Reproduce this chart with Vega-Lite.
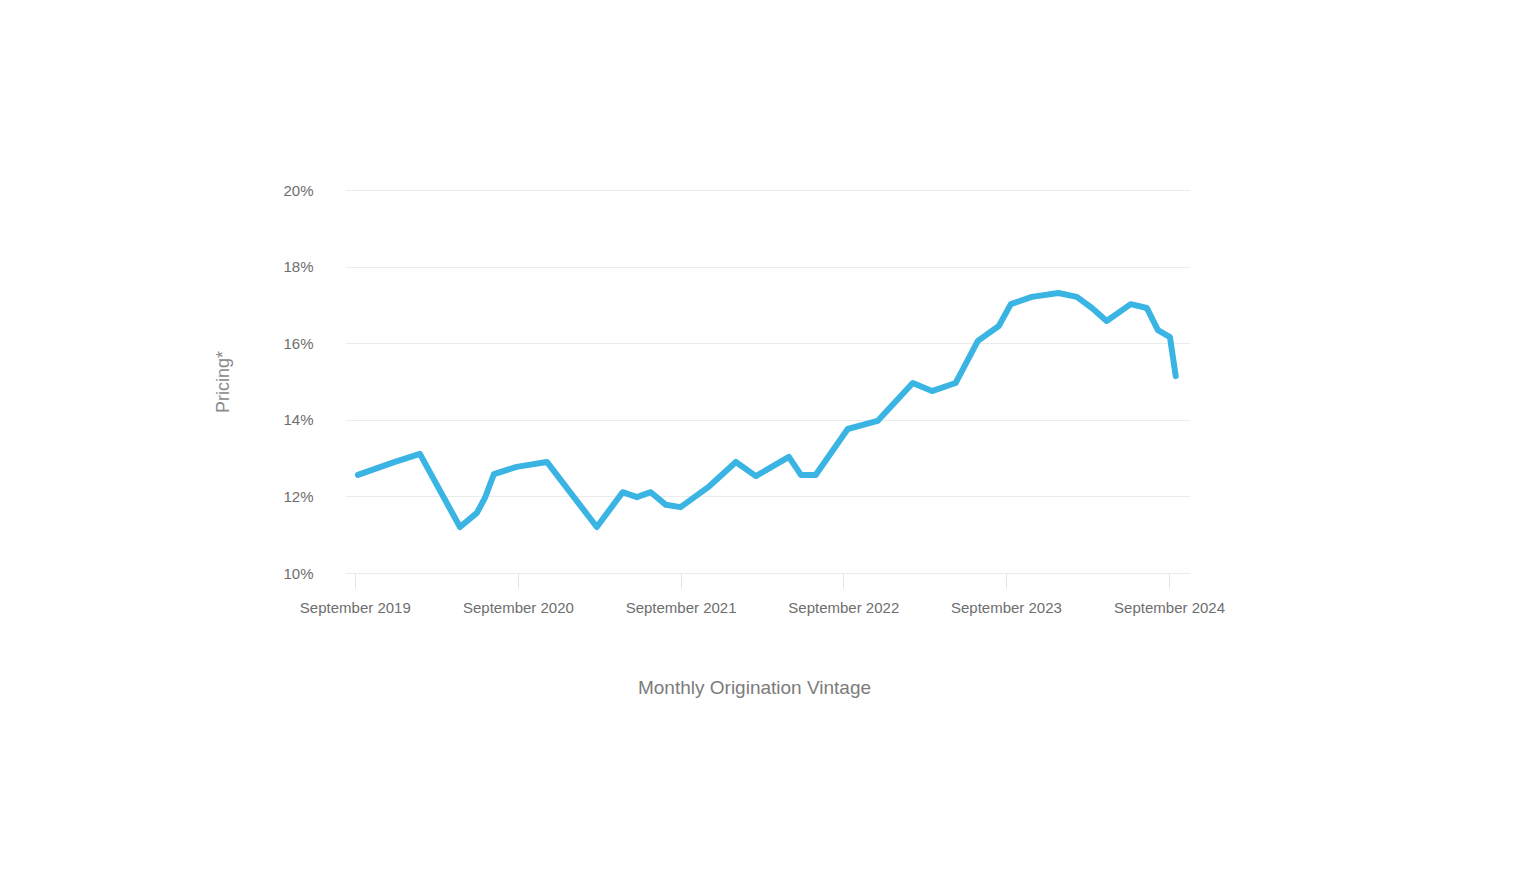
{
  "$schema": "https://vega.github.io/schema/vega-lite/v6.json",
  "autosize": "none",
  "width": 845,
  "height": 383,
  "padding": {"left": 345, "top": 190, "right": 345, "bottom": 305},
  "background": "#ffffff",
  "config": {
    "view": {"stroke": null},
    "font": "Liberation Sans"
  },
  "data": {
    "values": [
      {"date": "2019-09-08", "pricing": 12.56},
      {"date": "2019-11-30", "pricing": 12.90},
      {"date": "2020-01-25", "pricing": 13.11},
      {"date": "2020-04-24", "pricing": 11.20},
      {"date": "2020-06-01", "pricing": 11.57},
      {"date": "2020-06-19", "pricing": 11.96},
      {"date": "2020-07-09", "pricing": 12.58},
      {"date": "2020-08-29", "pricing": 12.77},
      {"date": "2020-11-05", "pricing": 12.90},
      {"date": "2021-02-25", "pricing": 11.20},
      {"date": "2021-04-24", "pricing": 12.11},
      {"date": "2021-05-26", "pricing": 11.98},
      {"date": "2021-06-26", "pricing": 12.11},
      {"date": "2021-07-30", "pricing": 11.78},
      {"date": "2021-09-01", "pricing": 11.72},
      {"date": "2021-11-05", "pricing": 12.27},
      {"date": "2022-01-03", "pricing": 12.90},
      {"date": "2022-02-17", "pricing": 12.53},
      {"date": "2022-05-02", "pricing": 13.03},
      {"date": "2022-05-29", "pricing": 12.56},
      {"date": "2022-07-01", "pricing": 12.56},
      {"date": "2022-09-11", "pricing": 13.76},
      {"date": "2022-11-17", "pricing": 13.97},
      {"date": "2023-02-04", "pricing": 14.96},
      {"date": "2023-03-19", "pricing": 14.75},
      {"date": "2023-05-11", "pricing": 14.96},
      {"date": "2023-06-30", "pricing": 16.06},
      {"date": "2023-08-16", "pricing": 16.45},
      {"date": "2023-09-12", "pricing": 17.02},
      {"date": "2023-10-29", "pricing": 17.21},
      {"date": "2023-12-28", "pricing": 17.31},
      {"date": "2024-02-07", "pricing": 17.21},
      {"date": "2024-03-12", "pricing": 16.92},
      {"date": "2024-04-14", "pricing": 16.58},
      {"date": "2024-06-07", "pricing": 17.02},
      {"date": "2024-07-13", "pricing": 16.92},
      {"date": "2024-08-07", "pricing": 16.34},
      {"date": "2024-09-03", "pricing": 16.16},
      {"date": "2024-09-16", "pricing": 15.14}
    ]
  },
  "mark": {"type": "line", "color": "#3ab4e3", "strokeWidth": 6, "strokeCap": "round", "strokeJoin": "round"},
  "encoding": {
    "x": {
      "field": "date",
      "type": "temporal",
      "title": "Monthly Origination Vintage",
      "scale": {"domain": [{"year": 2019, "month": 8, "date": 10}, {"year": 2024, "month": 10, "date": 18}]},
      "axis": {
        "values": [
          {"year": 2019, "month": 9, "date": 1},
          {"year": 2020, "month": 9, "date": 1},
          {"year": 2021, "month": 9, "date": 1},
          {"year": 2022, "month": 9, "date": 1},
          {"year": 2023, "month": 9, "date": 1},
          {"year": 2024, "month": 9, "date": 1}
        ],
        "format": "%B %Y",
        "grid": false,
        "domain": false,
        "ticks": true,
        "tickSize": 15,
        "tickColor": "#e4e4e4",
        "tickWidth": 1,
        "labelFontSize": 15,
        "labelColor": "#6e6e6e",
        "labelPadding": 12,
        "labelFlush": false,
        "titleFontSize": 19,
        "titleFontWeight": "normal",
        "titleColor": "#7c7c7c",
        "titlePadding": 63,
        "titleX": 409
      }
    },
    "y": {
      "field": "pricing",
      "type": "quantitative",
      "title": "Pricing*",
      "scale": {"domain": [10, 20], "nice": false, "zero": false},
      "axis": {
        "values": [10, 12, 14, 16, 18, 20],
        "labelExpr": "datum.value + '%'",
        "grid": true,
        "gridColor": "#ebebeb",
        "gridWidth": 1,
        "domain": false,
        "ticks": false,
        "labelFontSize": 15,
        "labelColor": "#6e6e6e",
        "labelPadding": 32,
        "titleFontSize": 18,
        "titleFontWeight": "normal",
        "titleColor": "#8a8a8a",
        "titlePadding": 50
      }
    }
  }
}
